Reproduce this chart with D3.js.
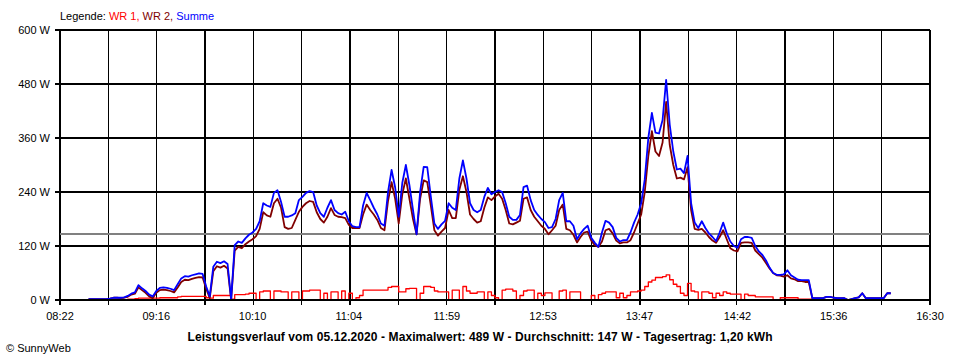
<!DOCTYPE html>
<html><head><meta charset="utf-8">
<script src="https://cdn.jsdelivr.net/npm/d3@7"></script>
<style>
body{margin:0;background:#fff}
svg{display:block}
text{font-family:"Liberation Sans",Arial,sans-serif;fill:#000}
</style>
</head><body>
<svg id="chart" width="960" height="360"></svg>
<script>
// ---------- data ----------
const times = [
"08:38","08:40","08:42","08:44","08:46","08:48","08:50","08:52","08:54","08:56","08:58",
"09:00","09:02","09:04","09:06","09:08","09:10","09:12","09:14","09:16","09:18","09:20","09:22","09:24","09:26","09:28","09:30","09:32","09:34","09:36","09:38","09:40","09:42","09:44","09:46","09:48","09:50","09:52","09:54","09:56","09:58",
"10:00","10:02","10:04","10:06","10:08","10:10","10:12","10:14","10:16","10:18","10:20","10:22","10:24","10:26","10:28","10:30","10:32","10:34","10:36","10:38","10:40","10:42","10:44","10:46","10:48","10:50","10:52","10:54","10:56","10:58",
"11:00","11:02","11:04","11:06","11:08","11:10","11:12","11:14","11:16","11:18","11:20","11:22","11:24","11:26","11:28","11:30","11:32","11:34","11:36","11:38","11:40","11:42","11:44","11:46","11:48","11:50","11:52","11:54","11:56","11:58",
"12:00","12:02","12:04","12:06","12:08","12:10","12:12","12:14","12:16","12:18","12:20","12:22","12:24","12:26","12:28","12:30","12:32","12:34","12:36","12:38","12:40","12:42","12:44","12:46","12:48","12:50","12:52","12:54","12:56","12:58",
"13:00","13:02","13:04","13:06","13:08","13:10","13:12","13:14","13:16","13:18","13:20","13:22","13:24","13:26","13:28","13:30","13:32","13:34","13:36","13:38","13:40","13:42","13:44","13:46","13:48","13:50","13:52","13:54","13:56","13:58",
"14:00","14:02","14:04","14:06","14:08","14:10","14:12","14:14","14:16","14:18","14:20","14:22","14:24","14:26","14:28","14:30","14:32","14:34","14:36","14:38","14:40","14:42","14:44","14:46","14:48","14:50","14:52","14:54","14:56","14:58",
"15:00","15:02","15:04","15:06","15:08","15:10","15:12","15:14","15:16","15:18","15:20","15:22","15:24","15:26","15:28","15:30","15:32","15:34","15:36","15:38","15:40","15:42","15:44","15:46","15:48","15:50","15:52","15:54","15:56","15:58",
"16:00","16:02","16:04","16:06","16:08"
];
const summe = [
2,2,2,2,2,2,3,5,5,5,6,
9,14,17,33,26,20,12,8,20,27, 28,27,25,22,35,48,53,52,55,57, 59,58,30,8,74,85,82,86,80,2,
122,130,127,137,145,150,158,175,215,210, 207,238,244,218,185,185,188,193,222,229, 238,242,240,210,193,185,205,222,200,193,
190,196,175,164,162,162,210,238,222,205, 190,170,165,240,289,250,185,260,300,255, 200,146,240,296,295,230,170,158,168,176,
215,205,200,270,310,270,215,200,195,200, 229,249,235,240,244,240,215,185,178,178, 189,251,254,222,200,189,180,173,160,162,
180,222,238,175,175,165,135,148,158,165, 138,127,118,150,176,172,162,138,130,133, 133,150,172,190,215,268,360,416,372,370,
400,489,390,330,290,292,282,320,215,172, 160,175,160,148,140,131,150,172,148,130, 120,116,135,140,140,138,120,108,100,88,
72,60,56,56,57,66,55,50,45,44, 44,44,4,4,4,4,7,7,5,4, 4,4,0,2,4,6,15,4,4,4,
4,4,4,15,15
];
const wr2 = [
2,2,2,2,2,2,3,5,5,4,5,
7,12,14,28,22,16,8,4,16,22, 23,22,20,17,28,40,45,44,47,49, 51,50,25,4,64,75,72,76,70,0,
110,118,115,124,130,135,142,158,195,188, 185,215,225,205,162,158,160,178,196,207, 215,220,218,195,180,172,185,204,189,185,
184,182,167,160,160,160,190,212,200,190, 178,160,155,220,262,225,170,235,270,225, 180,146,225,266,262,210,155,143,152,160,
200,182,182,245,275,240,190,180,172,175, 205,228,222,230,236,225,200,170,168,172, 176,225,228,200,185,175,165,158,146,155,
165,200,212,158,155,145,128,140,150,152, 132,122,118,130,155,158,148,132,126,128, 128,133,150,170,190,240,320,375,330,320,
350,440,345,300,270,272,268,295,200,158, 156,158,150,140,132,127,140,155,135,115, 110,108,127,128,128,127,110,102,94,82,
70,60,55,54,52,55,48,46,42,42, 40,40,4,4,4,4,7,7,5,4, 4,4,0,2,4,6,15,4,4,4,
4,4,4,15,15
];
const wr1 = [
0,0,0,0,0,0,0,0,0,1,1,
2,2,3,4,4,4,4,4,4,5, 5,5,5,5,7,8,8,8,8,8, 8,8,5,4,10,10,10,10,10,2,
12,12,12,13,15,15,0,18,20,20, 0,20,20,18,18,0,18,18,0,20, 20,22,22,22,0,15,0,18,18,0,
20,0,15,0,5,10,22,22,22,22, 22,22,22,28,30,30,18,18,25,26, 26,0,15,30,30,28,20,18,18,18,
0,22,22,0,30,20,15,15,18,18, 0,18,10,5,0,22,24,24,20,0, 10,20,22,22,0,15,10,16,16,0,
0,20,22,0,18,18,18,0,0,0, 10,0,12,15,18,18,18,5,15,5, 10,18,18,20,22,30,40,44,50,50,
52,56,45,35,30,15,10,37,20,18, 0,18,18,15,5,15,10,18,15,13, 13,13,0,13,10,10,7,7,7,7,
7,0,0,5,5,5,5,5,2,2, 2,2,0,0,0,0,0,0,0,0, 0,0,0,0,0,0,0,0,0,0,
0,0,0,0,0
];
const seriesNames = ["WR 1", "WR 2", "Summe"];
const yTickValues = [0, 120, 240, 360, 480, 600];
const xTickLabels = ["08:22","09:16","10:10","11:04","11:59","12:53","13:47","14:42","15:36","16:30"];
const average = 147;
const titleText = "Leistungsverlauf vom 05.12.2020 - Maximalwert: 489 W - Durchschnitt: 147 W - Tagesertrag: 1,20 kWh";
const creditText = "\u00A9 SunnyWeb";

// ---------- styles ----------
const colors = {"WR 1": "#ff0000", "WR 2": "#800000", "Summe": "#0000ff"};
const widths = {"WR 1": 1.3, "WR 2": 1.8, "Summe": 1.8};
const curves = {"WR 1": d3.curveStepAfter, "WR 2": d3.curveLinear, "Summe": d3.curveLinear};

(function draw() {
  const svg = d3.select("#chart");
  const pL = 60, pR = 930, pT = 30, pB = 300;
  const toMin = s => +s.slice(0, 2) * 60 + +s.slice(3);
  const tStart = toMin(xTickLabels[0]), tEnd = toMin(xTickLabels[xTickLabels.length - 1]);
  const x = d3.scaleLinear().domain([tStart, tEnd]).range([pL, pR]);
  const y = d3.scaleLinear().domain([0, 600]).range([pB, pT]);

  const nLab = xTickLabels.length - 1;
  const gridT = d3.range(nLab * 2 + 1).map(k => tStart + k * (tEnd - tStart) / (nLab * 2));

  const grid = svg.append("g").attr("shape-rendering", "crispEdges");
  grid.selectAll("line.v").data(gridT).join("line")
    .attr("class", "v")
    .attr("x1", d => x(d)).attr("x2", d => x(d))
    .attr("y1", y(600)).attr("y2", pB + 5)
    .attr("stroke", "#000").attr("stroke-width", 1.6);
  grid.selectAll("line.h").data(yTickValues).join("line")
    .attr("class", "h")
    .attr("x1", pL - 5).attr("x2", pR)
    .attr("y1", d => y(d)).attr("y2", d => y(d))
    .attr("stroke", "#000").attr("stroke-width", 1.6);

  svg.append("line").attr("shape-rendering", "crispEdges")
    .attr("x1", pL).attr("x2", pR)
    .attr("y1", y(average)).attr("y2", y(average))
    .attr("stroke", "#808080").attr("stroke-width", 1.6);

  svg.append("g").selectAll("text").data(yTickValues).join("text")
    .attr("x", pL - 10).attr("y", d => y(d) + 4)
    .attr("text-anchor", "end").attr("font-size", "11px")
    .text(d => d + " W");

  svg.append("g").selectAll("text").data(xTickLabels).join("text")
    .attr("x", d => x(toMin(d))).attr("y", 320)
    .attr("text-anchor", "middle").attr("font-size", "11px")
    .text(d => d);

  const rows = times.map((t, i) => ({t: toMin(t), "WR 1": wr1[i], "WR 2": wr2[i], "Summe": summe[i]}));
  seriesNames.forEach(name => {
    const line = d3.line().curve(curves[name])
      .x(d => x(d.t)).y(d => y(d[name]));
    svg.append("path").datum(rows)
      .attr("d", line)
      .attr("fill", "none")
      .attr("stroke", colors[name])
      .attr("stroke-width", widths[name])
      .attr("stroke-linejoin", "round");
  });

  svg.append("line").attr("shape-rendering", "crispEdges")
    .attr("x1", pL - 5).attr("x2", pR)
    .attr("y1", y(0)).attr("y2", y(0))
    .attr("stroke", "#000").attr("stroke-width", 1.6);

  const leg = svg.append("text").attr("x", pL).attr("y", 20).attr("font-size", "11px");
  leg.append("tspan").text("Legende: ");
  seriesNames.forEach((name, i) => {
    leg.append("tspan").attr("fill", colors[name])
      .text(name + (i < seriesNames.length - 1 ? ", " : ""));
  });

  svg.append("text").attr("x", 480).attr("y", 341)
    .attr("text-anchor", "middle").attr("font-size", "12px").attr("font-weight", "bold")
    .attr("textLength", 585).attr("lengthAdjust", "spacing")
    .text(titleText);

  svg.append("text").attr("x", 6).attr("y", 352).attr("font-size", "11px").text(creditText);
})();
</script>
</body></html>
